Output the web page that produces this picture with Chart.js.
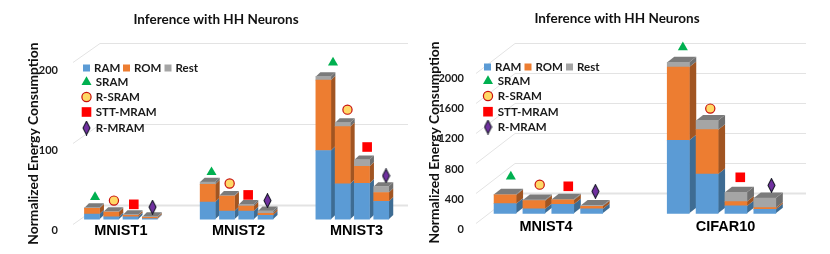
<!DOCTYPE html>
<html><head><meta charset="utf-8">
<style>html,body{margin:0;padding:0;background:#fff;width:830px;height:254px;overflow:hidden}
canvas{position:absolute;top:0}</style>
<script src="https://cdn.jsdelivr.net/npm/chart.js@4"></script></head><body>
<div id="a" style="position:absolute;left:0;top:0;width:432px;height:254px"><canvas id="c1"></canvas></div>
<div id="b" style="position:absolute;left:424px;top:0;width:386px;height:254px"><canvas id="c2"></canvas></div>
<script>
const titleText='Inference with HH Neurons';
const yAxisTitle='Normalized Energy Consumption';
const seriesNames=['RAM','ROM','Rest'];
const markerNames=['SRAM','R-SRAM','STT-MRAM','R-MRAM'];

// left chart
const slotsL=[0,1,2,3,6,7,8,9,12,13,14,15];
const ramL=[6.5,2.9,2.9,0.8,21.3,10.2,10.2,4.9,84.7,43.8,44.2,22];
const romL=[7,6.1,2,1.6,21.7,18.4,6.1,2.5,86.7,70.3,20.9,11];
const restL=[0.8,0.5,0.8,0.8,2.9,0.8,2,2.9,4.5,4.9,8.2,7.4];
const sramL=[27.4,58,193];
const rsramL=[23,44,135];
const sttL=[18.4,30,89];
const rmramL=[15,23,53.6];
const sramXL=[0.16,6.2,12.5];
const rsramXL=[1.14,7.14,13.25];
const sttXL=[2.17,8.1,14.27];
const rmramXL=[3.14,9.1,15.25];
const groupsL=['MNIST1','MNIST2','MNIST3'];
const groupPosL=[1.5,7.6,13.72];
const tickValsL=[0,100,200];
const gridValsL=[0,100,200];

// right chart
const slotsR=[0,1,2,3,6,7,8,9];
const ramR=[129,58,120,58,973,524,98,53];
const romR=[116,111,58,36,978,591,58,22];
const restR=[9,9,9,9,62,124,124,129];
const sramR=[489,2213];
const rsramR=[382,1396];
const sttR=[360,480];
const rmramR=[293,373];
const sramXR=[0.2,6.16];
const rsramXR=[1.2,7.11];
const sttXR=[2.19,8.15];
const rmramXR=[3.13,9.23];
const groupsR=['MNIST4','CIFAR10'];
const groupPosR=[1.42,7.64];
const tickValsR=[0,400,800,1200,1600,2000];
const gridValsR=[0,400,800,1200,1600,2000];

const colors=['#5B9BD5','#ED7D31','#A5A5A5'];
const sideColors=['#3E6C93','#A15522','#6F6F6F'];
const topColor='#7B7B7B';
const uiFont='Lato, "Open Sans", sans-serif';
const labelColor='#1a1a1a';

function diamondCanvas(w,h){
  const c=document.createElement('canvas');c.width=w;c.height=h;
  const x=c.getContext('2d');
  x.beginPath();x.moveTo(w/2,0.7);x.lineTo(w-1,h/2);x.lineTo(w/2,h-0.7);x.lineTo(1,h/2);x.closePath();
  x.fillStyle='#7030A0';x.fill();x.lineWidth=1.1;x.strokeStyle='#1a1a2a';x.stroke();
  return c;
}
const diamond=diamondCanvas(9,15);

const markerStyles=[
 {pointStyle:'triangle',radius:5.8,bg:'#00B050',bd:'#00B050',bw:0},
 {pointStyle:'circle',radius:4.6,bg:'#FFD966',bd:'#C8100C',bw:1.2},
 {pointStyle:'rect',radius:6.8,bg:'#FF0000',bd:'#FF0000',bw:0},
 {pointStyle:diamond,radius:6,bg:'#7030A0',bd:'#1a1a2a',bw:0}
];

const faces3d={id:'faces3d',
 beforeDatasetsDraw(chart,args,o){
  const g=chart.ctx,ys=chart.scales.yG;
  g.save();
  g.strokeStyle='#E3E3E3';
  o.gridVals.forEach(v=>{
    const y=Math.round(ys.getPixelForValue(v))+0.5;
    g.lineWidth=v===0?2:1;
    g.beginPath();g.moveTo(o.wallX,y);g.lineTo(o.wallRight,y);g.stroke();
    g.lineWidth=1;g.beginPath();g.moveTo(o.wallX,y);g.lineTo(o.wallX-o.diagX,y+o.diagY);g.stroke();
  });
  const n=3;
  for(let d=0;d<n;d++){
    chart.getDatasetMeta(d).data.forEach(el=>{
      const p=el.getProps(['x','y','base','width'],true);
      const r=p.x+p.width/2;
      g.fillStyle=sideColors[d];
      g.beginPath();g.moveTo(r,p.y);g.lineTo(r+o.dx,p.y-o.dy);g.lineTo(r+o.dx,p.base-o.dy);g.lineTo(r,p.base);g.closePath();g.fill();
      if(d===n-1){
        const l=p.x-p.width/2;
        g.fillStyle=topColor;
        g.beginPath();g.moveTo(l,p.y);g.lineTo(l+o.dx,p.y-o.dy);g.lineTo(r+o.dx,p.y-o.dy);g.lineTo(r,p.y);g.closePath();g.fill();
      }
    });
  }
  g.restore();
 },
 afterDraw(chart,args,o){
  const g=chart.ctx;
  g.save();
  g.font='bold 11.5px '+uiFont;g.textBaseline='middle';g.textAlign='left';
  seriesNames.forEach((s,i)=>{
    g.fillStyle=colors[i];g.fillRect(o.squares[i],o.row0-3.5,7,7);
    g.fillStyle=labelColor;g.fillText(s,o.squares[i]+11,o.row0+0.5);
  });
  markerNames.forEach((s,i)=>{
    const m=markerStyles[i];
    g.fillStyle=m.bg;g.strokeStyle=m.bd;g.lineWidth=m.bw;
    Chart.helpers.drawPoint(g,{pointStyle:m.pointStyle,radius:m.radius,borderWidth:m.bw},o.markX,o.rows[i]);
    g.fillStyle=labelColor;g.fillText(s,o.textX,o.rows[i]+0.5);
  });
  g.restore();
 }
};

function build(id,cfg){
  const toXY=(xs,ys)=>xs.map((x,i)=>({x:x,y:ys[i]}));
  const markers=[[cfg.sramX,cfg.sram],[cfg.rsramX,cfg.rsram],[cfg.sttX,cfg.stt],[cfg.rmramX,cfg.rmram]];
  const datasets=[cfg.ram,cfg.rom,cfg.rest].map((v,i)=>({
    type:'bar',label:seriesNames[i],data:toXY(cfg.slots,v),backgroundColor:colors[i],
    stack:'s',order:1,barThickness:cfg.barW,borderWidth:0,yAxisID:'y',xAxisID:'x'}));
  markers.forEach((m,i)=>{
    const s=markerStyles[i];
    datasets.push({type:'line',label:markerNames[i],data:toXY(m[0],m[1]),showLine:false,order:0,
      pointStyle:s.pointStyle,pointRadius:s.radius,pointHoverRadius:s.radius,pointBackgroundColor:s.bg,
      pointBorderColor:s.bd,pointBorderWidth:s.bw,clip:false,yAxisID:'y',xAxisID:'x'});
  });
  const noPad=s=>{s.paddingTop=s.paddingBottom=s.paddingLeft=s.paddingRight=0;};
  return new Chart(document.getElementById(id),{
    data:{datasets},
    plugins:[faces3d],
    options:{
      responsive:true,maintainAspectRatio:false,animation:false,
      layout:{padding:0},
      events:[],
      plugins:{
        legend:{display:false},tooltip:{enabled:false},
        title:{display:true,text:titleText,color:'#111',font:{family:uiFont,size:13.5,weight:'bold'},
          padding:{top:cfg.titleTop,bottom:40-cfg.titleTop-16.2}},
        faces3d:cfg.faces
      },
      scales:{
        x:{type:'linear',position:'bottom',min:cfg.xMin,max:cfg.xMax,offset:false,
           grid:{display:false},border:{display:false},
           afterBuildTicks(s){s.ticks=cfg.groupPos.map(v=>({value:v}));},
           afterFit(s){s.height=254-cfg.bottom;noPad(s);},
           ticks:{mirror:true,autoSkip:false,maxRotation:0,minRotation:0,padding:cfg.xPad,color:'#000',
             font:{family:'"Liberation Sans", Arial, sans-serif',size:14.5,weight:'bold'},
             callback(v){const i=cfg.groupPos.indexOf(v);return i<0?'':cfg.groups[i];}}},
        y:{display:false,stacked:true,position:'left',min:cfg.yBar[0],max:cfg.yBar[1]},
        yG:{display:false,position:'left',min:cfg.yGrid[0],max:cfg.yGrid[1]},
        yT:{position:'left',min:cfg.yTick[0],max:cfg.yTick[1],
           grid:{display:false},border:{display:false},
           afterBuildTicks(s){s.ticks=cfg.tickVals.map(v=>({value:v}));},
           afterFit(s){s.width=cfg.axisW;noPad(s);},
           ticks:{padding:4,color:labelColor,font:{family:uiFont,size:11,weight:'bold'},callback:v=>String(v)},
           title:{display:true,text:yAxisTitle,color:'#111',font:{family:uiFont,size:13.8,weight:'bold'},
             padding:{top:cfg.titlePad,bottom:0}}}
      }
    }
  });
}

build('c1',{slots:slotsL,ram:ramL,rom:romL,rest:restL,sram:sramL,rsram:rsramL,stt:sttL,rmram:rmramL,
  sramX:sramXL,rsramX:rsramXL,sttX:sttXL,rmramX:rmramXL,groups:groupsL,groupPos:groupPosL,tickVals:tickValsL,
  barW:15,bottom:248,axisW:70,titlePad:25,titleTop:12,xPad:8,
  xMin:-1.138,xMax:17.28,yBar:[-34.4,220.8],yGrid:[-51.5,203.7],yTick:[-21,237.4],
  faces:{gridVals:gridValsL,wallX:100,wallRight:408,diagX:27,diagY:19,dx:4.5,dy:4.3,
    squares:[83,123,164.5],row0:68,markX:86.5,textX:95.7,rows:[82,97,112,128]}});
build('c2',{slots:slotsR,ram:ramR,rom:romR,rest:restR,sram:sramR,rsram:rsramR,stt:sttR,rmram:rmramR,
  sramX:sramXR,rsramX:rsramXR,sttX:sttXR,rmramX:rmramXR,groups:groupsR,groupPos:groupPosR,tickVals:tickValsR,
  barW:22,bottom:245,axisW:52,titlePad:2,titleTop:11,xPad:9.3,
  xMin:-1.007,xMax:10.33,yBar:[-422.7,2311],yGrid:[-693,2040],yTick:[-202,2502],
  faces:{gridVals:gridValsR,wallX:91,wallRight:382,diagX:39,diagY:30,dx:7,dy:5.5,
    squares:[60,100.5,142],row0:67,markX:64,textX:73.7,rows:[81,96,111.7,127]}});
</script></body></html>
